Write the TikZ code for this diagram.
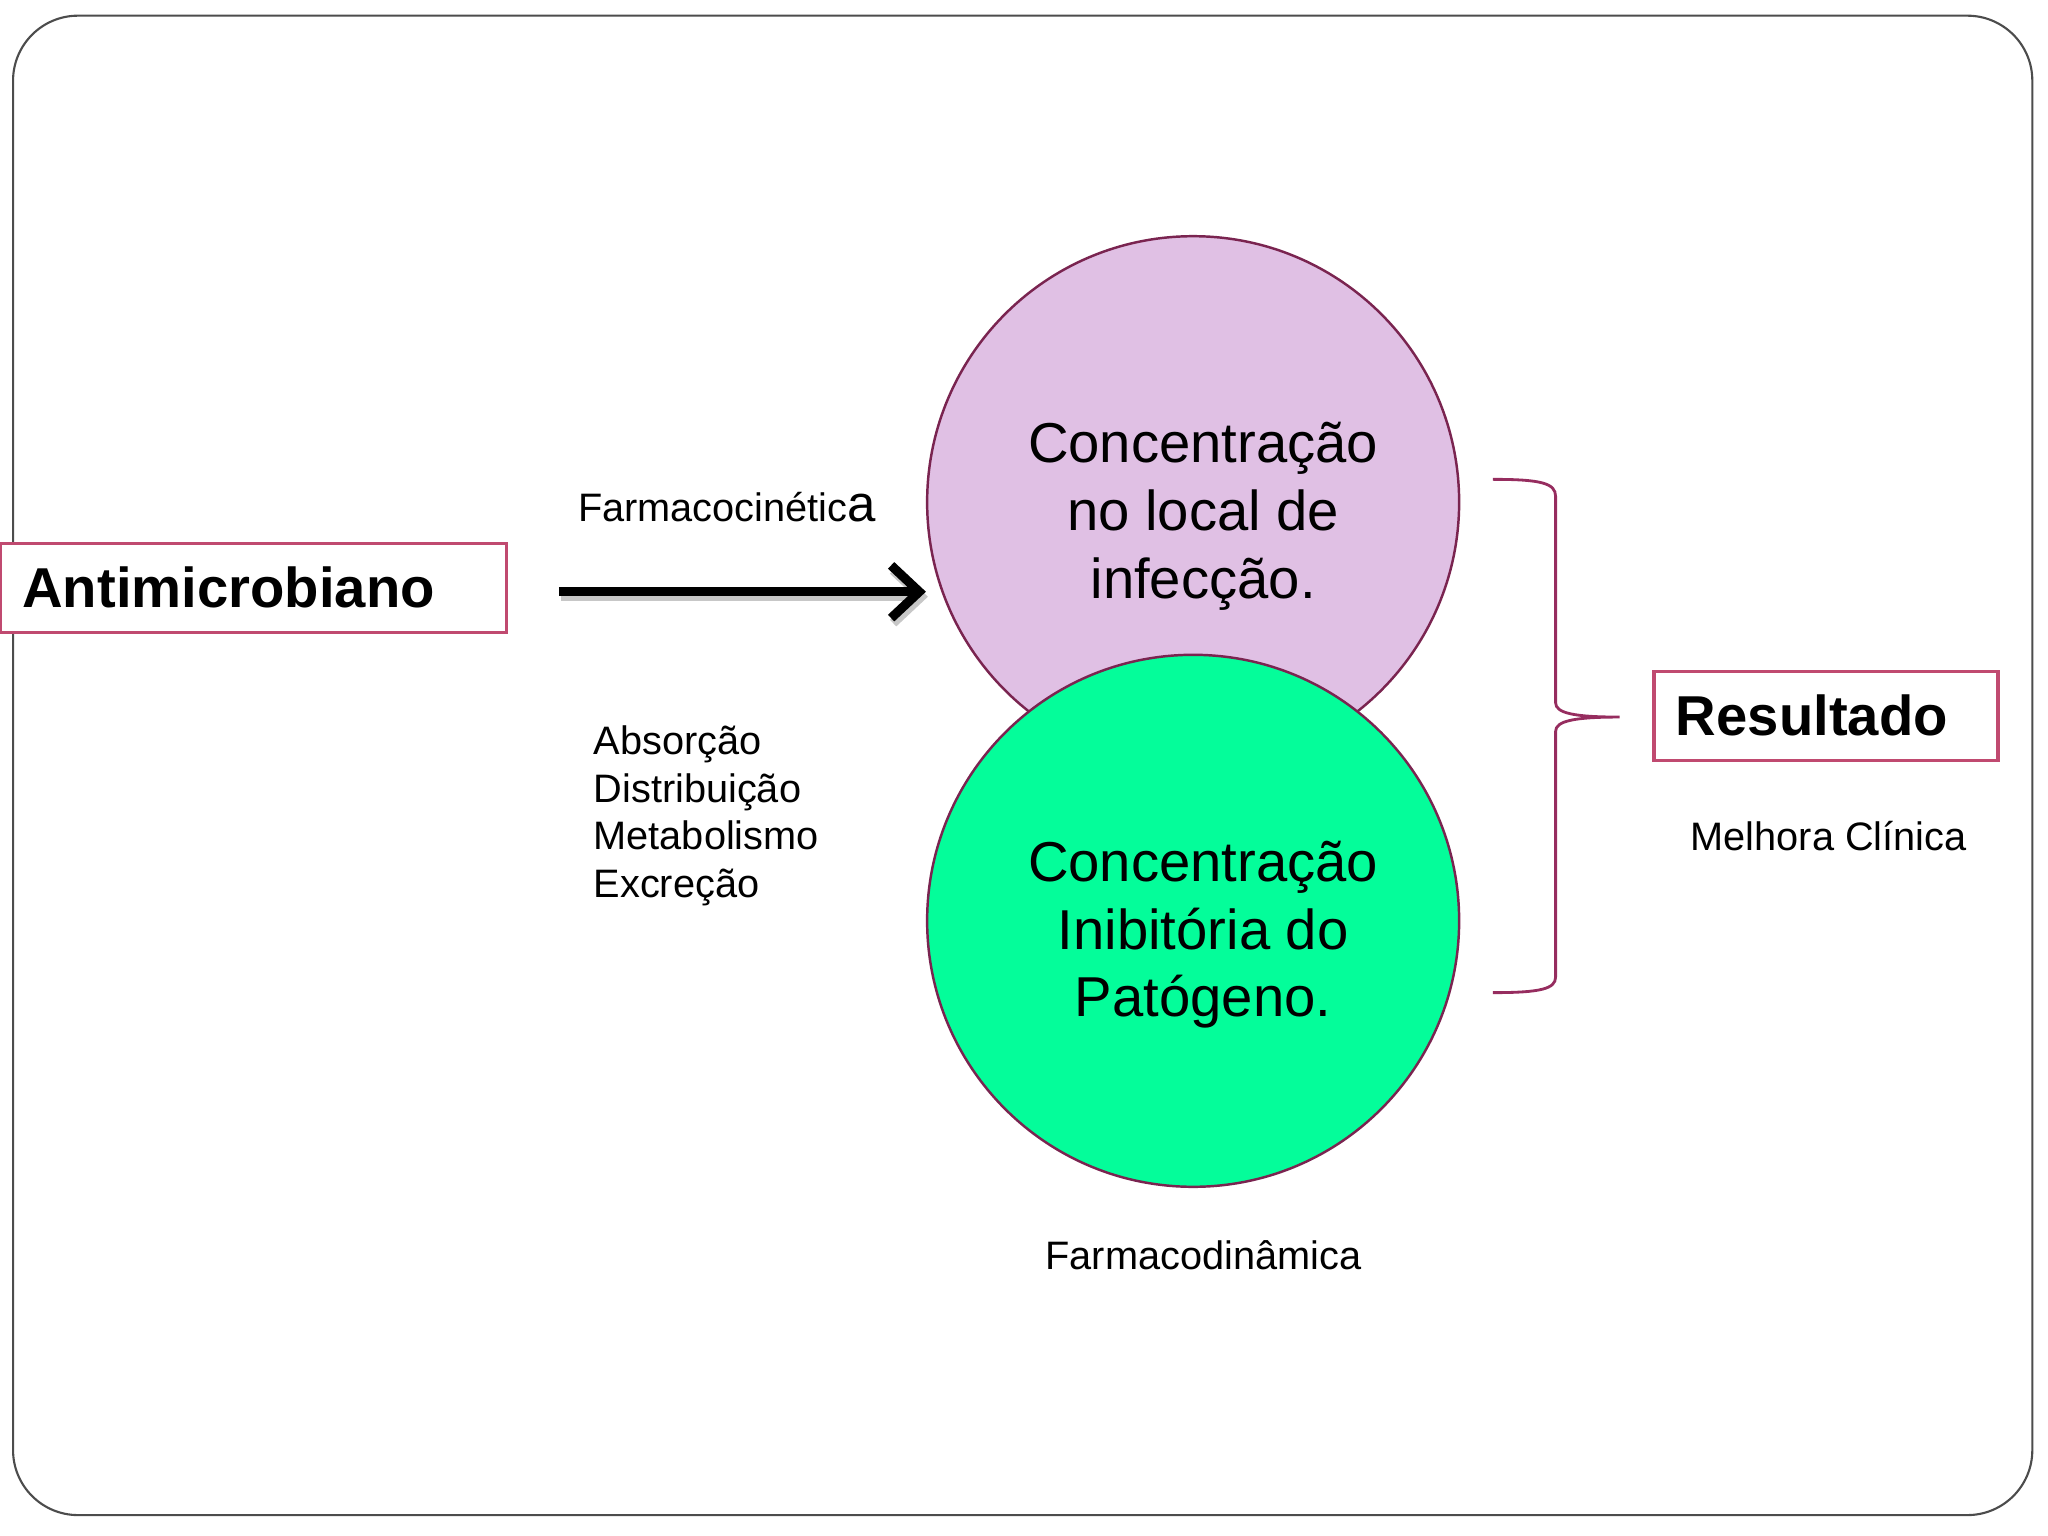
\documentclass[tikz,border=0pt]{standalone}
\usepackage{fontspec}
\setmainfont{Liberation Sans}
\usepackage{tikz}
\usetikzlibrary{arrows.meta}
\definecolor{lilas}{RGB}{224,192,228}
\definecolor{verde}{RGB}{4,253,154}
\definecolor{vinho}{RGB}{122,36,80}
\definecolor{rosa}{RGB}{192,74,112}
\definecolor{chave}{RGB}{150,45,95}

\begin{document}
\begin{tikzpicture}[x=0.013061cm, y=-0.013061cm,
	caixa/.style={fill=white, draw=rosa, line width=0.9pt, shape=rectangle, align=left, minimum height=0.89cm, inner xsep=0.22cm, font=\fontsize{16}{19}\selectfont\bfseries},
	bola/.style={draw=vinho, line width=0.7pt, shape=circle, minimum size=5.32cm, inner sep=0pt},
	texto/.style={align=center, xshift=0.1cm, yshift=-0.14cm, font=\fontsize{16}{19.3}\selectfont},
	rotulo/.style={align=left, inner sep=0pt, font=\fontsize{11.3}{13.6}\selectfont},
	seta/.style={line width=2.6pt, -{Straight Barb[length=8pt,width=15pt]}}]
	\useasboundingbox (0,0) rectangle (1568,1176);
	\draw [draw=black!70, line width=0.6pt, rounded corners=0.65cm] (10,12) rectangle (1556,1160);
	\node [caixa, text width=4.62cm] (0) at (194,450) {Antimicrobiano};
	\node [bola, fill=lilas, label={[texto]center:Concentração\\no local de\\infecção.}] (1) at (913.5,384.5) {};
	\node [bola, fill=verde, label={[texto]center:Concentração\\Inibitória do\\Patógeno.}] (2) at (913.5,705) {};
	\node [caixa, text width=3.0cm] (3) at (1398,548) {Resultado};
	\node [rotulo, anchor=west] (4) at (442,388) {Farmacocinétic{\fontsize{14.5}{14.5}\selectfont a}};
	\node [rotulo, anchor=north west] (5) at (454,555) {Absorção\\Distribuição\\Metabolismo\\Excreção};
	\node [rotulo, anchor=west] (6) at (1294,640) {Melhora Clínica};
	\node [rotulo, anchor=west] (7) at (800,961) {Farmacodinâmica};
	% seta com sombra
	\draw [seta, black!22] ([xshift=0.53cm,yshift=-0.09cm]0.east) -- ([yshift=-0.09cm,xshift=0.02cm]0.east -| 1.west);
	\draw [seta] ([xshift=0.51cm,yshift=-0.04cm]0.east) -- ([yshift=-0.04cm]0.east -| 1.west);
	% chave
	\coordinate (b1) at (1143,367);
	\coordinate (b2) at (1240,549);
	\coordinate (b3) at (1143,760);
	\draw [chave, line width=0.8pt] (b1) .. controls (1180,367) and (1191,370) .. (1191,380) -- (1191,538) .. controls (1191,546) and (1205,549) .. (b2) .. controls (1205,549) and (1191,552) .. (1191,560) -- (1191,748) .. controls (1191,757) and (1180,760) .. (b3);
\end{tikzpicture}
\end{document}
